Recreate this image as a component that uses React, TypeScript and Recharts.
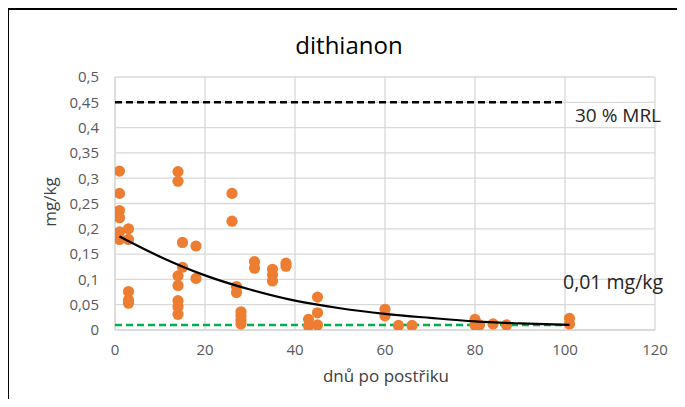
import React from 'react';
import { ScatterChart, Scatter, XAxis, YAxis, CartesianGrid } from 'recharts';

// measured residues: days after spraying and residue (mg/kg)
const days = [
  1, 1, 1, 1, 1, 1,
  3, 3, 3, 3, 3,
  14, 14, 14, 14, 14, 14, 14,
  15, 15, 18, 18,
  26, 26, 27, 27,
  28, 28, 28, 28,
  31, 31, 35, 35, 35, 38, 38,
  43, 43, 45, 45, 45,
  60, 60, 63, 66,
  80, 80, 81, 84, 87,
  101, 101,
];
const residues = [
  0.314, 0.27, 0.236, 0.222, 0.194, 0.179,
  0.2, 0.179, 0.076, 0.059, 0.053,
  0.313, 0.294, 0.107, 0.088, 0.058, 0.046, 0.031,
  0.173, 0.124, 0.166, 0.102,
  0.27, 0.215, 0.086, 0.074,
  0.036, 0.028, 0.02, 0.012,
  0.135, 0.122, 0.12, 0.109, 0.097, 0.132, 0.126,
  0.021, 0.008, 0.065, 0.034, 0.01,
  0.041, 0.028, 0.009, 0.009,
  0.021, 0.01, 0.01, 0.012, 0.01,
  0.023, 0.012,
];

// trendline
const trendDays = [1, 10, 20, 30, 40, 50, 60, 70, 80, 90, 101];
const trendValues = [0.185, 0.145, 0.108, 0.08, 0.058, 0.043, 0.032, 0.024, 0.017, 0.013, 0.01];

// reference lines
const refDays = [0, 100];
const mrlValue = 0.45;
const loqValue = 0.01;

const xTicks = [0, 20, 40, 60, 80, 100, 120];
const yTicks = [0, 0.05, 0.1, 0.15, 0.2, 0.25, 0.3, 0.35, 0.4, 0.45, 0.5];

const title = 'dithianon';
const xTitle = 'dnů po postřiku';
const yTitle = 'mg/kg';
const mrlLabel = '30 % MRL';
const loqLabel = '0,01 mg/kg';

const points = days.map((d, i) => ({ x: d, y: residues[i] }));
const trend = trendDays.map((d, i) => ({ x: d, y: trendValues[i] }));
const mrl = refDays.map((d) => ({ x: d, y: mrlValue }));
const loq = refDays.map((d) => ({ x: d, y: loqValue }));

const FONT = '"Open Sans", sans-serif';
const fmt = (v: number) => String(+Number(v).toFixed(2)).replace('.', ',');

const Dot = (props: any) => {
  const { cx, cy } = props;
  if (cx == null || cy == null) return <g />;
  return <circle cx={cx} cy={cy} r={5.6} fill="#ED7D31" />;
};
const None = () => <g />;

export default function App() {
  return (
    <div style={{ position: 'relative', width: 685, height: 407, margin: -8, overflow: 'hidden', background: '#fff', fontFamily: FONT }}>
      <div style={{ position: 'absolute', left: 7, top: 8, width: 800, height: 600, borderLeft: '2px solid #000', borderTop: '2px solid #000' }} />
      <div style={{ position: 'absolute', left: 0, top: 0 }}>
        <ScatterChart width={685} height={407} margin={{ top: 77, right: 30, bottom: 47, left: 0 }}>
          <CartesianGrid stroke="#d9d9d9" strokeWidth={1.3} />
          <XAxis
            type="number"
            dataKey="x"
            domain={[0, 120]}
            ticks={xTicks}
            interval={0}
            height={30}
            axisLine={{ stroke: '#d9d9d9', strokeWidth: 1.3 }}
            tickLine={false}
            tickSize={6}
            tickMargin={8}
            tick={{ fill: '#595959', fontSize: 15, fontFamily: FONT }}
            allowDataOverflow
          />
          <YAxis
            type="number"
            dataKey="y"
            domain={[0, 0.5]}
            ticks={yTicks}
            interval={0}
            width={115}
            axisLine={{ stroke: '#d9d9d9', strokeWidth: 1.3 }}
            tickLine={false}
            tickSize={6}
            tickMargin={10}
            tickFormatter={fmt}
            tick={{ fill: '#595959', fontSize: 15, fontFamily: FONT }}
            allowDataOverflow
          />
          <Scatter data={loq} line={{ stroke: '#00B050', strokeWidth: 2.5, strokeDasharray: '7 4' }} shape={None} isAnimationActive={false} />
          <Scatter data={mrl} line={{ stroke: '#000', strokeWidth: 2.5, strokeDasharray: '7 4' }} shape={None} isAnimationActive={false} />
          <Scatter data={points} shape={Dot} isAnimationActive={false} />
          <Scatter data={trend} line={{ stroke: '#000', strokeWidth: 2.2 }} lineJointType="monotoneX" shape={None} isAnimationActive={false} />
        </ScatterChart>
      </div>
      <svg width={685} height={407} style={{ position: 'absolute', left: 0, top: 0, pointerEvents: 'none' }}>
        <text x={349} y={54} textAnchor="middle" fontSize={24} fill="#000" fontFamily={FONT}>{title}</text>
        <text x={386} y={382} textAnchor="middle" fontSize={17} fill="#404040" fontFamily={FONT}>{xTitle}</text>
        <text x={0} y={0} transform="translate(56,202) rotate(-90)" textAnchor="middle" fontSize={17} fill="#404040" fontFamily={FONT}>{yTitle}</text>
        <text x={575} y={122} fontSize={19} fill="#262626" fontFamily={FONT}>{mrlLabel}</text>
        <text x={563} y={289} fontSize={19.5} fill="#262626" fontFamily={FONT}>{loqLabel}</text>
      </svg>
    </div>
  );
}
